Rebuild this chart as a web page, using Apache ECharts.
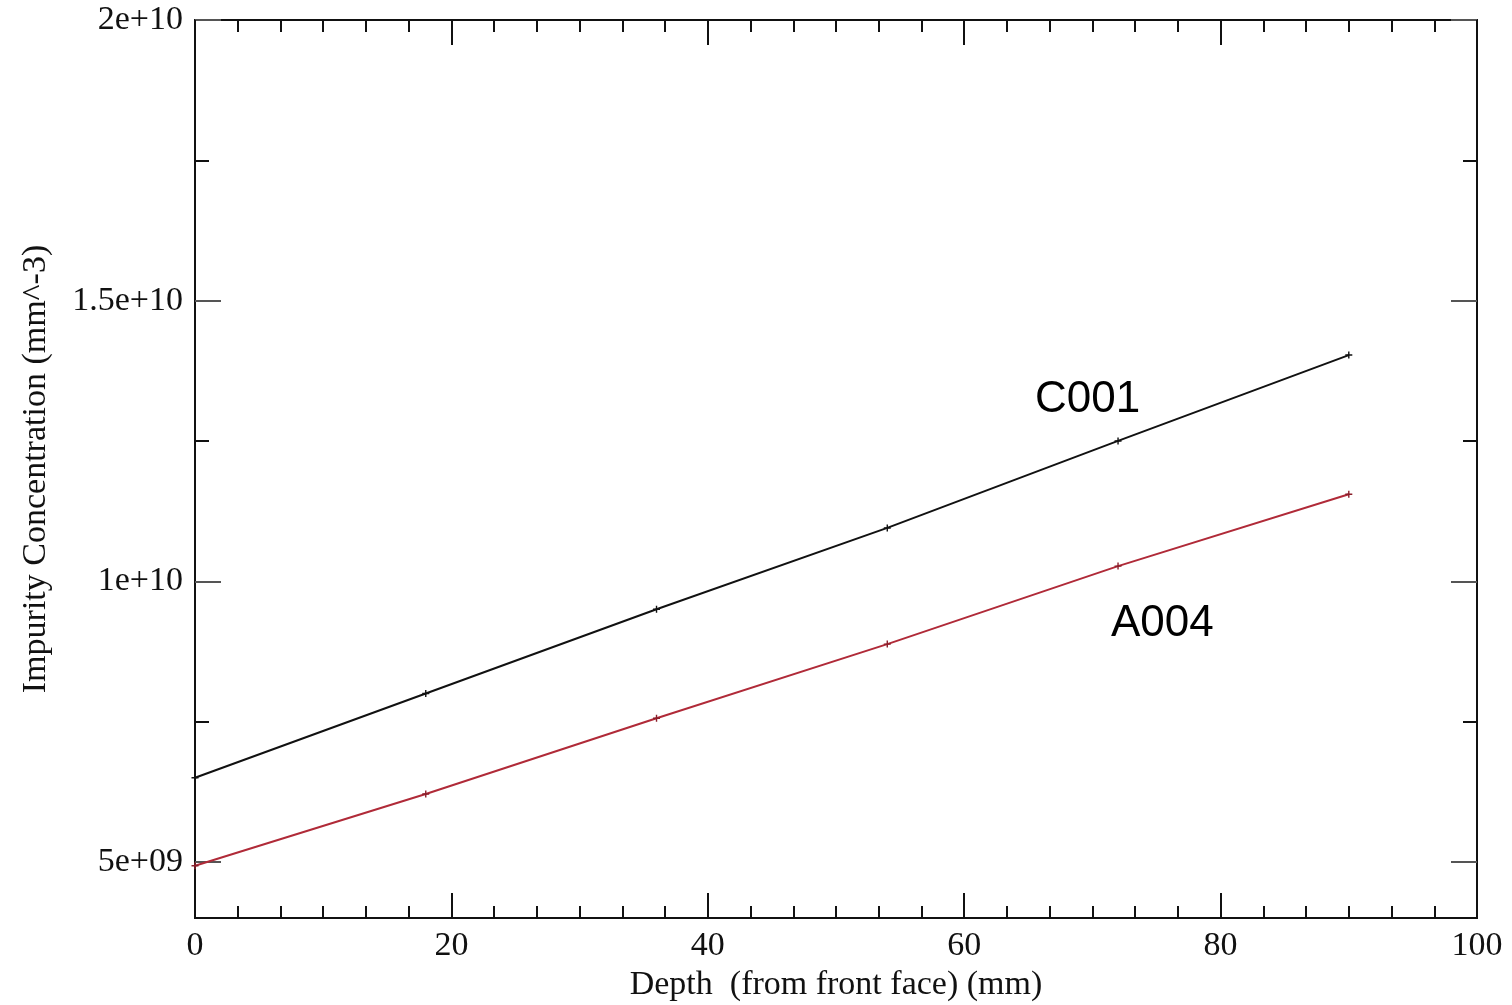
<!DOCTYPE html>
<html>
<head>
<meta charset="utf-8">
<title>Impurity Concentration vs Depth</title>
<script src="https://cdn.jsdelivr.net/npm/echarts@6/dist/echarts.min.js"></script>
<style>
  html, body { margin: 0; padding: 0; background: #ffffff; }
  #chart { width: 1512px; height: 1005px; }
</style>
</head>
<body>
<div id="chart"></div>
<script>
// Depth along the crystal (mm) where the concentration was evaluated
const depths = [0, 18, 36, 54, 72, 90];

// Impurity concentration (mm^-3) per crystal
const c001Values = [6.50e9, 8.00e9, 9.50e9, 10.95e9, 12.50e9, 14.03e9];
const a004Values = [4.93e9, 6.21e9, 7.56e9, 8.88e9, 10.27e9, 11.55e9];

// Y axis ticks: labelled majors and unlabelled half-steps
const yMajorTicks = [5e9, 1e10, 1.5e10, 2e10];
const yMajorLabels = ['5e+09', '1e+10', '1.5e+10', '2e+10'];
const yMinorTicks = [7.5e9, 1.25e10, 1.75e10];

const SERIF = '"Liberation Serif", "Times New Roman", serif';
const SANS = '"Liberation Sans", Arial, sans-serif';
const INK = '#111111';
const FONT_SIZE = 34;

const chart = echarts.init(document.getElementById('chart'), null, { renderer: 'canvas' });

function toPairs(xs, ys) {
  return xs.map((x, i) => [x, ys[i]]);
}

const plusSymbol = 'path://M-0.6,-3 h1.2 v2.4 h2.4 v1.2 h-2.4 v2.4 h-1.2 v-2.4 h-2.4 v-1.2 h2.4 z';

const frameLine = { show: true, lineStyle: { color: INK, width: 2 } };

function xAxisDef(position, withLabels) {
  return {
    type: 'value',
    position: position,
    min: 0,
    max: 100,
    interval: 20,
    axisLine: frameLine,
    axisTick: { show: true, inside: true, length: 25, lineStyle: { color: INK, width: 2 } },
    minorTick: { show: true, splitNumber: 6, length: 12, lineStyle: { color: INK, width: 2 } },
    axisLabel: {
      show: withLabels,
      margin: 11,
      color: INK,
      fontFamily: SERIF,
      fontSize: FONT_SIZE
    },
    splitLine: { show: false },
    minorSplitLine: { show: false },
    name: withLabels ? 'Depth  (from front face) (mm)' : '',
    nameLocation: 'middle',
    nameGap: 50,
    nameTextStyle: { color: INK, fontFamily: SERIF, fontSize: FONT_SIZE }
  };
}

function yAxisDef(position, ticks, tickLen, tickColor, withLabels) {
  const axis = {
    type: 'value',
    position: position,
    min: 4e9,
    max: 2e10,
    axisLine: frameLine,
    axisTick: {
      show: true,
      inside: true,
      length: tickLen,
      customValues: ticks,
      lineStyle: { color: tickColor, width: 2 }
    },
    axisLabel: {
      show: withLabels,
      margin: 12,
      color: INK,
      fontFamily: SERIF,
      fontSize: FONT_SIZE,
      customValues: yMajorTicks,
      formatter: function (v) {
        const i = yMajorTicks.indexOf(v);
        return i >= 0 ? yMajorLabels[i] : '';
      }
    },
    splitLine: { show: false }
  };
  if (withLabels) {
    axis.name = 'Impurity Concentration (mm^-3)';
    axis.nameLocation = 'middle';
    axis.nameGap = 142;
    axis.nameTextStyle = { color: INK, fontFamily: SERIF, fontSize: FONT_SIZE };
  }
  return axis;
}

const option = {
  backgroundColor: '#ffffff',
  animation: false,
  grid: { left: 195, right: 35, top: 20, bottom: 87, outerBoundsMode: 'none', containLabel: false },
  xAxis: [
    xAxisDef('bottom', true),
    xAxisDef('top', false)
  ],
  yAxis: [
    yAxisDef('left', yMajorTicks, 26, '#555555', true),
    yAxisDef('left', yMinorTicks, 14, INK, false),
    yAxisDef('right', yMajorTicks, 26, '#555555', false),
    yAxisDef('right', yMinorTicks, 14, INK, false)
  ],
  series: [
    {
      name: 'C001',
      type: 'line',
      xAxisIndex: 0,
      yAxisIndex: 0,
      data: toPairs(depths, c001Values),
      symbol: plusSymbol,
      symbolSize: 7,
      itemStyle: { color: '#111111' },
      lineStyle: { color: '#111111', width: 2 }
    },
    {
      name: 'A004',
      type: 'line',
      xAxisIndex: 0,
      yAxisIndex: 0,
      data: toPairs(depths, a004Values),
      symbol: plusSymbol,
      symbolSize: 7,
      itemStyle: { color: '#8a1e2a' },
      lineStyle: { color: '#b02a38', width: 2 }
    }
  ],
  graphic: [
    {
      type: 'text',
      left: 1035,
      top: 378,
      style: { text: 'C001', fill: '#000000', font: '44px ' + SANS }
    },
    {
      type: 'text',
      left: 1111,
      top: 602,
      style: { text: 'A004', fill: '#000000', font: '44px ' + SANS }
    }
  ]
};

chart.setOption(option);
</script>
</body>
</html>
